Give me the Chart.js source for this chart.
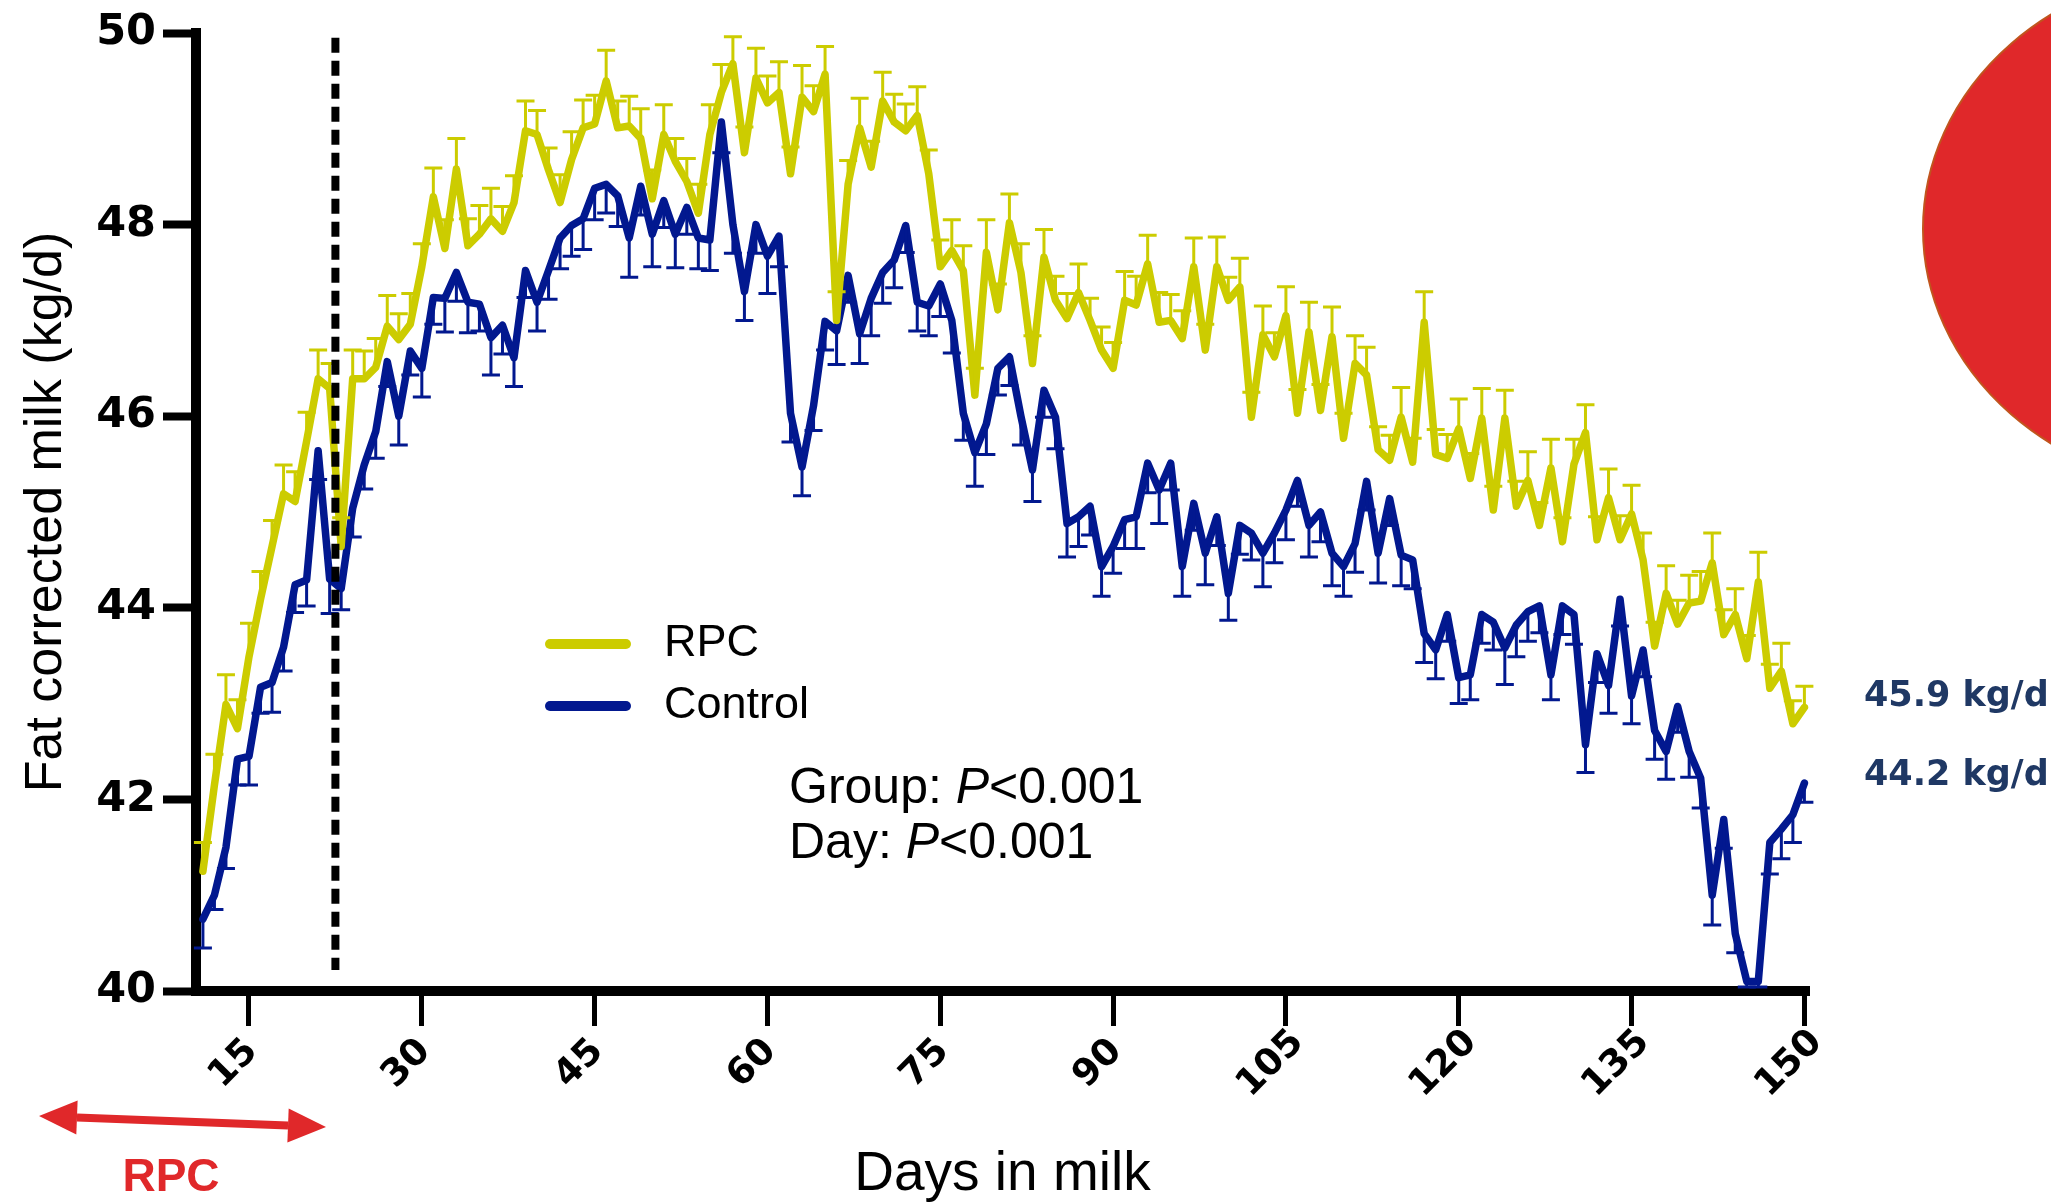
<!DOCTYPE html>
<html>
<head>
<meta charset="utf-8">
<title>Fat corrected milk</title>
<script src="https://cdn.jsdelivr.net/npm/chart.js@4.4.1/dist/chart.umd.min.js"></script>
<style>
  html, body { margin: 0; padding: 0; background: #fff; }
  canvas { display: block; }
</style>
</head>
<body>
<canvas id="milkChart" width="2051" height="1202"></canvas>
<script>
// days in milk
const days = [
  11, 12, 13, 14, 15, 16, 17, 18, 19, 20, 21, 22, 23, 24, 25, 26, 27, 28, 29, 30,
  31, 32, 33, 34, 35, 36, 37, 38, 39, 40, 41, 42, 43, 44, 45, 46, 47, 48, 49, 50,
  51, 52, 53, 54, 55, 56, 57, 58, 59, 60, 61, 62, 63, 64, 65, 66, 67, 68, 69, 70,
  71, 72, 73, 74, 75, 76, 77, 78, 79, 80, 81, 82, 83, 84, 85, 86, 87, 88, 89, 90,
  91, 92, 93, 94, 95, 96, 97, 98, 99, 100, 101, 102, 103, 104, 105, 106, 107, 108, 109, 110,
  111, 112, 113, 114, 115, 116, 117, 118, 119, 120, 121, 122, 123, 124, 125, 126, 127, 128, 129, 130,
  131, 132, 133, 134, 135, 136, 137, 138, 139, 140, 141, 142, 143, 144, 145, 146, 147, 148, 149, 150
];

// RPC group, mean and SEM (kg/d)
const rpcMilk = [
  41.25, 42.15, 42.99, 42.74, 43.49, 44.09, 44.64, 45.19, 45.11, 45.74, 46.39, 46.29, 44.64, 46.39, 46.39, 46.51, 46.94, 46.80, 46.96, 47.56,
  48.29, 47.75, 48.58, 47.78, 47.90, 48.06, 47.93, 48.23, 48.98, 48.94, 48.57, 48.23, 48.68, 49.01, 49.05, 49.50, 49.01, 49.03, 48.90, 48.27,
  48.94, 48.66, 48.45, 48.12, 48.94, 49.38, 49.68, 48.75, 49.53, 49.27, 49.38, 48.53, 49.33, 49.18, 49.57, 47.00, 48.42, 49.01, 48.60, 49.29,
  49.07, 48.98, 49.14, 48.53, 47.56, 47.73, 47.52, 46.22, 47.71, 47.11, 48.02, 47.50, 46.55, 47.66, 47.21, 47.02, 47.29, 47.00, 46.69, 46.50,
  47.21, 47.16, 47.59, 46.98, 47.00, 46.81, 47.56, 46.69, 47.56, 47.21, 47.35, 45.99, 46.85, 46.62, 47.05, 46.03, 46.88, 46.06, 46.83, 45.77,
  46.55, 46.43, 45.65, 45.54, 45.99, 45.52, 46.98, 45.60, 45.56, 45.87, 45.35, 45.98, 45.02, 45.98, 45.06, 45.33, 44.86, 45.46, 44.69, 45.50,
  45.83, 44.71, 45.15, 44.71, 44.98, 44.50, 43.60, 44.15, 43.83, 44.05, 44.07, 44.47, 43.72, 43.93, 43.47, 44.27, 43.16, 43.34, 42.79, 42.96
];
const rpcSem = [
  0.30, 0.32, 0.31, 0.30, 0.35, 0.29, 0.27, 0.30, 0.31, 0.30, 0.30, 0.26, 0.30, 0.30, 0.29, 0.30, 0.32, 0.27, 0.32, 0.24,
  0.30, 0.30, 0.32, 0.28, 0.30, 0.32, 0.26, 0.28, 0.31, 0.25, 0.23, 0.29, 0.29, 0.29, 0.30, 0.32, 0.28, 0.31, 0.31, 0.30,
  0.31, 0.24, 0.24, 0.30, 0.31, 0.29, 0.28, 0.27, 0.31, 0.28, 0.32, 0.28, 0.33, 0.27, 0.29, 0.30, 0.25, 0.31, 0.27, 0.30,
  0.29, 0.28, 0.30, 0.25, 0.28, 0.32, 0.26, 0.28, 0.34, 0.27, 0.30, 0.30, 0.29, 0.29, 0.25, 0.26, 0.30, 0.23, 0.24, 0.27,
  0.30, 0.30, 0.30, 0.31, 0.27, 0.29, 0.30, 0.27, 0.31, 0.24, 0.30, 0.26, 0.30, 0.25, 0.30, 0.25, 0.31, 0.27, 0.31, 0.26,
  0.29, 0.29, 0.24, 0.26, 0.31, 0.25, 0.32, 0.26, 0.25, 0.31, 0.26, 0.31, 0.25, 0.29, 0.26, 0.30, 0.24, 0.30, 0.25, 0.26,
  0.29, 0.24, 0.30, 0.25, 0.30, 0.28, 0.25, 0.29, 0.25, 0.29, 0.31, 0.31, 0.26, 0.27, 0.24, 0.31, 0.25, 0.29, 0.24, 0.22
];

// Control group, mean and SEM (kg/d)
const controlMilk = [
  40.75, 41.00, 41.50, 42.42, 42.45, 43.17, 43.22, 43.59, 44.24, 44.29, 45.64, 44.30, 44.20, 45.04, 45.49, 45.84, 46.57, 46.00, 46.68, 46.50,
  47.24, 47.23, 47.50, 47.19, 47.17, 46.82, 46.95, 46.61, 47.52, 47.19, 47.52, 47.86, 47.99, 48.06, 48.38, 48.42, 48.30, 47.86, 48.40, 47.90,
  48.25, 47.90, 48.18, 47.86, 47.84, 49.07, 48.00, 47.30, 48.00, 47.67, 47.88, 46.03, 45.47, 46.11, 46.99, 46.89, 47.47, 46.86, 47.23, 47.50,
  47.63, 47.99, 47.19, 47.15, 47.38, 47.00, 46.03, 45.62, 45.92, 46.50, 46.62, 46.00, 45.44, 46.27, 45.99, 44.88, 44.95, 45.06, 44.43, 44.64,
  44.92, 44.95, 45.51, 45.23, 45.51, 44.43, 45.09, 44.57, 44.95, 44.15, 44.86, 44.78, 44.57, 44.78, 45.02, 45.33, 44.86, 45.00, 44.57, 44.43,
  44.67, 45.32, 44.57, 45.14, 44.55, 44.50, 43.73, 43.56, 43.93, 43.27, 43.30, 43.93, 43.85, 43.58, 43.82, 43.96, 44.02, 43.30, 44.02, 43.93,
  42.57, 43.52, 43.19, 44.09, 43.08, 43.56, 42.72, 42.50, 42.97, 42.50, 42.22, 41.00, 41.79, 40.60, 40.10, 40.10, 41.55, 41.69, 41.84, 42.17
];
const controlSem = [
  0.30, 0.15, 0.22, 0.27, 0.30, 0.27, 0.31, 0.25, 0.29, 0.27, 0.30, 0.36, 0.22, 0.30, 0.25, 0.28, 0.26, 0.30, 0.25, 0.30,
  0.28, 0.35, 0.30, 0.32, 0.28, 0.39, 0.30, 0.30, 0.28, 0.30, 0.30, 0.32, 0.32, 0.32, 0.33, 0.30, 0.32, 0.41, 0.30, 0.34,
  0.28, 0.35, 0.28, 0.32, 0.32, 0.32, 0.30, 0.30, 0.30, 0.39, 0.32, 0.30, 0.30, 0.26, 0.30, 0.35, 0.28, 0.31, 0.39, 0.32,
  0.29, 0.28, 0.30, 0.31, 0.34, 0.34, 0.28, 0.35, 0.32, 0.28, 0.30, 0.30, 0.33, 0.28, 0.33, 0.35, 0.31, 0.30, 0.31, 0.28,
  0.30, 0.33, 0.31, 0.35, 0.28, 0.31, 0.28, 0.33, 0.30, 0.28, 0.30, 0.28, 0.35, 0.31, 0.31, 0.27, 0.33, 0.31, 0.34, 0.31,
  0.30, 0.30, 0.31, 0.28, 0.32, 0.30, 0.30, 0.30, 0.28, 0.27, 0.26, 0.30, 0.29, 0.38, 0.33, 0.31, 0.28, 0.26, 0.30, 0.31,
  0.29, 0.30, 0.29, 0.28, 0.29, 0.28, 0.30, 0.29, 0.27, 0.27, 0.31, 0.31, 0.30, 0.20, 0.10, 0.10, 0.33, 0.31, 0.29, 0.20
];

const xTickValues = [15, 30, 45, 60, 75, 90, 105, 120, 135, 150];
const yTickValues = [40, 42, 44, 46, 48, 50];
const rpcEndDay = 22.5;          // dashed line, end of RPC feeding
const meanLabels = ["45.9 kg/d", "44.2 kg/d"];

const rpcColor = "#cccc00";
const controlColor = "#02188f";
const red = "#e0282a";

// one-sided SEM bars: up for RPC, down for Control
const errorBars = {
  id: "errorBars",
  afterDatasetDraw(chart, args) {
    const ds = chart.data.datasets[args.index];
    if (!ds.sem) return;
    const ctx = chart.ctx;
    const yScale = chart.scales.y;
    const area = chart.chartArea;
    ctx.save();
    ctx.strokeStyle = ds.borderColor;
    ctx.lineWidth = 3;
    args.meta.data.forEach((pt, i) => {
      let end = yScale.getPixelForValue(ds.data[i].y + ds.sem[i] * ds.semDir);
      end = Math.min(end, area.bottom - 4);
      ctx.beginPath();
      ctx.moveTo(pt.x, pt.y);
      ctx.lineTo(pt.x, end);
      ctx.moveTo(pt.x - 9, end);
      ctx.lineTo(pt.x + 9, end);
      ctx.stroke();
    });
    ctx.restore();
  }
};

const decorations = {
  id: "decorations",
  afterDraw(chart) {
    const ctx = chart.ctx;
    const xs = chart.scales.x;
    const ys = chart.scales.y;
    ctx.save();

    // x tick labels, rotated around their centre
    ctx.font = "bold 37px 'DejaVu Sans', sans-serif";
    ctx.fillStyle = "#000";
    ctx.textAlign = "center";
    ctx.textBaseline = "middle";
    xTickValues.forEach(v => {
      const px = xs.getPixelForValue(v);
      ctx.save();
      ctx.translate(px - 15, 1064);
      ctx.rotate(-Math.PI / 4);
      ctx.fillText(String(v), 0, 0);
      ctx.restore();
    });

    // dashed line at end of supplementation
    const dx = xs.getPixelForValue(rpcEndDay);
    ctx.strokeStyle = "#000";
    ctx.lineWidth = 8;
    ctx.setLineDash([15, 8]);
    ctx.beginPath();
    ctx.moveTo(dx, ys.getPixelForValue(49.95));
    ctx.lineTo(dx, ys.getPixelForValue(40.22));
    ctx.stroke();
    ctx.setLineDash([]);

    // legend
    ctx.textAlign = "left";
    ctx.font = "45px 'Liberation Sans', Arial, sans-serif";
    chart.data.datasets.forEach((ds, i) => {
      const ly = 644 + i * 62;
      ctx.strokeStyle = ds.borderColor;
      ctx.lineWidth = 10;
      ctx.lineCap = "round";
      ctx.beginPath();
      ctx.moveTo(550, ly);
      ctx.lineTo(626, ly);
      ctx.stroke();
      ctx.fillStyle = "#000";
      ctx.fillText(ds.label, 664, ly);
    });

    // statistics
    const stats = [["Group: ", "<0.001", 789], ["Day: ", "<0.001", 844]];
    stats.forEach(([head, tail, sy]) => {
      let sx = 789;
      ctx.font = "50px 'Liberation Sans', Arial, sans-serif";
      ctx.fillText(head, sx, sy);
      sx += ctx.measureText(head).width;
      ctx.font = "italic 50px 'Liberation Sans', Arial, sans-serif";
      ctx.fillText("P", sx, sy);
      sx += ctx.measureText("P").width;
      ctx.font = "50px 'Liberation Sans', Arial, sans-serif";
      ctx.fillText(tail, sx, sy);
    });

    // mean values on the right
    ctx.font = "bold 35px 'DejaVu Sans', sans-serif";
    ctx.fillStyle = "#1f3864";
    ctx.fillText(meanLabels[0], 1864, 697);
    ctx.fillText(meanLabels[1], 1864, 776);

    // red ellipse at the top right
    ctx.beginPath();
    ctx.ellipse(2224, 229, 301, 262, 0, 0, Math.PI * 2);
    ctx.fillStyle = red;
    ctx.fill();
    ctx.strokeStyle = "#c0551e";
    ctx.lineWidth = 2;
    ctx.stroke();

    // double arrow for RPC period
    const x1 = 39, y1 = 1116, x2 = 326, y2 = 1127;
    const ang = Math.atan2(y2 - y1, x2 - x1);
    const head = 38, half = 17;
    ctx.strokeStyle = red;
    ctx.fillStyle = red;
    ctx.lineWidth = 8;
    ctx.lineCap = "butt";
    ctx.beginPath();
    ctx.moveTo(x1 + Math.cos(ang) * head, y1 + Math.sin(ang) * head);
    ctx.lineTo(x2 - Math.cos(ang) * head, y2 - Math.sin(ang) * head);
    ctx.stroke();
    [[x1, y1, 1], [x2, y2, -1]].forEach(([tx, ty, dir]) => {
      const bx = tx + dir * Math.cos(ang) * head;
      const by = ty + dir * Math.sin(ang) * head;
      ctx.beginPath();
      ctx.moveTo(tx, ty);
      ctx.lineTo(bx - Math.sin(ang) * half, by + Math.cos(ang) * half);
      ctx.lineTo(bx + Math.sin(ang) * half, by - Math.cos(ang) * half);
      ctx.closePath();
      ctx.fill();
    });
    ctx.font = "bold 46px 'Liberation Sans', Arial, sans-serif";
    ctx.textAlign = "center";
    ctx.fillText("RPC", 171, 1178);

    ctx.restore();
  }
};

new Chart(document.getElementById("milkChart"), {
  type: "line",
  data: {
    datasets: [
      {
        label: "RPC",
        data: days.map((d, i) => ({ x: d, y: rpcMilk[i] })),
        sem: rpcSem,
        semDir: 1,
        borderColor: rpcColor,
        backgroundColor: rpcColor
      },
      {
        label: "Control",
        data: days.map((d, i) => ({ x: d, y: controlMilk[i] })),
        sem: controlSem,
        semDir: -1,
        borderColor: controlColor,
        backgroundColor: controlColor
      }
    ]
  },
  options: {
    responsive: false,
    animation: false,
    devicePixelRatio: 1,
    layout: { padding: { left: 0, right: 242, top: 33, bottom: 0 } },
    plugins: { legend: { display: false }, tooltip: { enabled: false } },
    elements: {
      point: { radius: 0 },
      line: { tension: 0, borderWidth: 7.5, borderJoinStyle: "round", borderCapStyle: "round" }
    },
    scales: {
      x: {
        type: "linear",
        min: 10.4,
        max: 150.4,
        afterBuildTicks: s => { s.ticks = xTickValues.map(v => ({ value: v })); },
        afterFit: s => { s.height = 211; },
        border: { display: true, color: "#000", width: 10 },
        grid: { drawOnChartArea: false, drawTicks: true, tickLength: 35, tickWidth: 5, tickColor: "#000" },
        ticks: { display: false },
        title: {
          display: true,
          text: "Days in milk",
          color: "#000",
          font: { family: "Liberation Sans", size: 55, lineHeight: 1 },
          padding: { top: 0, bottom: 0 }
        }
      },
      y: {
        type: "linear",
        min: 40,
        max: 50,
        afterBuildTicks: s => { s.ticks = yTickValues.map(v => ({ value: v })); },
        afterFit: s => { s.width = 196; },
        border: { display: true, color: "#000", width: 10 },
        grid: { drawOnChartArea: false, drawTicks: true, tickLength: 33, tickWidth: 8, tickColor: "#000" },
        ticks: {
          padding: 7,
          color: "#000",
          font: { family: "DejaVu Sans", weight: "bold", size: 43 }
        },
        title: {
          display: true,
          text: "Fat corrected milk (kg/d)",
          color: "#000",
          font: { family: "Liberation Sans", size: 52, lineHeight: 1.2 },
          padding: { top: 15, bottom: 0 }
        }
      }
    }
  },
  plugins: [errorBars, decorations]
});
</script>
</body>
</html>
